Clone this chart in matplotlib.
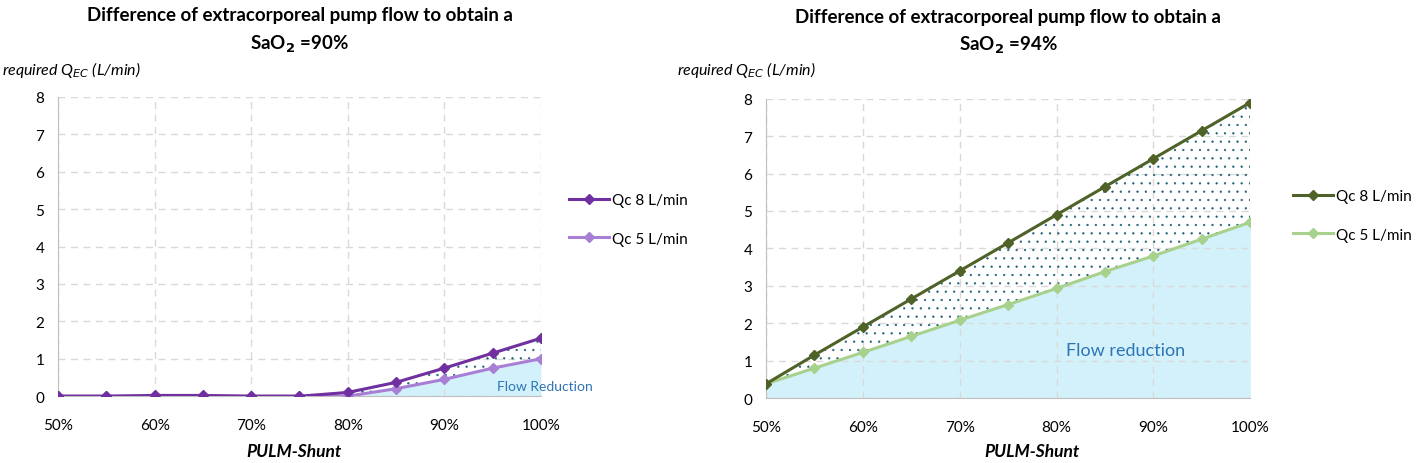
import numpy as np
import matplotlib.pyplot as plt
from matplotlib.ticker import FuncFormatter

plt.rcParams['font.family'] = ['Lato', 'DejaVu Sans']
plt.rcParams['hatch.linewidth'] = 0.4

shunt = [50, 55, 60, 65, 70, 75, 80, 85, 90, 95, 100]

# SaO2 = 90%
qc8_90 = [0, 0, 0.02, 0.02, 0, 0, 0.1, 0.37, 0.75, 1.15, 1.55]
qc5_90 = [0, 0, 0, 0, 0, 0, 0, 0.2, 0.45, 0.75, 1.0]

# SaO2 = 94%
qc8_94 = [0.38, 1.15, 1.9, 2.65, 3.4, 4.15, 4.9, 5.65, 6.4, 7.15, 7.9]
qc5_94 = [0.38, 0.8, 1.22, 1.65, 2.08, 2.5, 2.93, 3.38, 3.8, 4.25, 4.7]

fill_blue = '#d3f1fb'
dot_col = '#1f5f7a'
txt_blue = '#2e75b6'

fig = plt.figure(figsize=(14.16, 4.64), dpi=100)


def panel(rect, q8, q5, c8, c5, sao2, label, lab_xy, lab_size, leg_xy, ylab_x, xlab_x):
    ax = fig.add_axes(rect)
    x = np.array(shunt)
    a = np.array(q8)
    b = np.array(q5)
    # blue area under the lower curve, grid shows through it
    ax.fill_between(x, 0, b, color=fill_blue, lw=0, zorder=0.3)
    ax.fill_between(x, b, a, facecolor='none', edgecolor=dot_col, hatch='..', lw=0, zorder=2)
    ax.plot(x, a, color=c8, lw=2.2, marker='D', ms=5, label='Qc 8 L/min', zorder=4)
    ax.plot(x, b, color=c5, lw=2.2, marker='D', ms=5, label='Qc 5 L/min', zorder=3)
    ax.set_xlim(50, 100)
    ax.set_ylim(0, 8)
    ax.set_xticks(range(50, 101, 10))
    ax.set_yticks(range(0, 9))
    ax.xaxis.set_major_formatter(FuncFormatter(lambda v, p: '%d%%' % v))
    ax.grid(True, color='#d9d9d9', ls=(0, (5, 4)), lw=1)
    ax.set_axisbelow(True)
    for s in ['top', 'right']:
        ax.spines[s].set_visible(False)
    ax.spines['left'].set_color('#bfbfbf')
    ax.spines['bottom'].set_color('#bfbfbf')
    ax.tick_params(length=0, labelsize=11, colors='#000000')
    ax.tick_params(axis='x', pad=16)
    ax.tick_params(axis='y', pad=10)
    ax.set_title('Difference of extracorporeal pump flow to obtain a\nSaO$_{\\mathbf{2}}$ =%d%%' % sao2,
                 fontsize=13.5, fontweight='bold', pad=35, linespacing=1.6)
    fig.text(ylab_x, 1 - 70 / 464, 'required Q$_{EC}$ (L/min)', fontsize=11.5, style='italic',
             ha='left', va='center')
    fig.text(xlab_x, 1 - 452 / 464, 'PULM-Shunt', fontsize=12.5, fontweight='bold', style='italic',
             ha='center', va='center')
    ax.text(lab_xy[0], lab_xy[1], label, color=txt_blue, fontsize=lab_size, zorder=5)
    ax.legend(loc='center left', bbox_to_anchor=leg_xy, frameon=False, fontsize=11,
              labelspacing=1.6, handlelength=2.6, handletextpad=0.2)
    return ax


panel([0.041, 0.144, 0.341, 0.645], qc8_90, qc5_90, '#7030a0', '#a97fd6', 90,
      'Flow Reduction', (95.5, 0.17), 10, (1.03, 0.59), 2 / 1416, 294 / 1416)
panel([0.541, 0.140, 0.342, 0.645], qc8_94, qc5_94, '#4f6228', '#a9d18e', 94,
      'Flow reduction', (81, 1.15), 13, (1.06, 0.61), 677 / 1416, 1032 / 1416)

fig.savefig('out.png', dpi=100)
